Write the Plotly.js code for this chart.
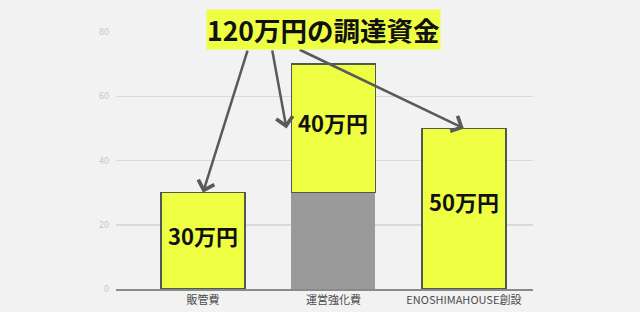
<!DOCTYPE html>
<html><head><meta charset="utf-8">
<script src="https://cdn.plot.ly/plotly-3.0.1.min.js"></script>
<style>html,body{margin:0;padding:0;background:#f2f2f2;}#chart{width:640px;height:312px;}</style>
</head><body><div id="chart"></div>
<script>
const categories = ['販管費', '運営強化費', 'ENOSHIMAHOUSE創設'];
const baseValues = [0, 30, 0];
const fundValues = [30, 40, 50];
const fundLabels = ['30万円', '40万円', '50万円'];
const titleText = '120万円の調達資金';
const yTicks = [0, 20, 40, 60, 80];

const FONT = '"Noto Sans CJK JP", "Noto Sans", sans-serif';
const YELLOW = '#eefe43';
const ARROW = '#5a5a5a';

const traces = [
  {type: 'bar', x: categories, y: baseValues, marker: {color: '#9a9a9a', line: {width: 0}}, width: 0.644, hoverinfo: 'skip'},
  {type: 'bar', x: categories, y: fundValues, marker: {color: YELLOW, line: {color: '#4d5a4d', width: 1.5}}, width: 0.644, hoverinfo: 'skip'}
];

const stackTop = fundValues.map((v, i) => v + baseValues[i]);
const labelAnns = categories.map((c, i) => ({
  xref: 'x', yref: 'y', x: c, y: baseValues[i] + fundValues[i] * 0.53, yshift: 3, showarrow: false,
  text: '<b>' + fundLabels[i] + '</b>', font: {family: FONT, size: 22, color: '#111'}
}));

const arrowCommon = {xref: 'x', yref: 'y', axref: 'x', ayref: 'y', showarrow: true, arrowhead: 4, arrowsize: 1.3,
                     arrowwidth: 2.5, arrowcolor: ARROW, text: ''};
const annotations = [
  Object.assign({}, arrowCommon, {x: 0, y: stackTop[0], ax: 0.345, ay: 74.7}),
  Object.assign({}, arrowCommon, {x: 1 - 0.36, y: baseValues[1] + fundValues[1] / 2, ax: 0.529, ay: 74.7}),
  Object.assign({}, arrowCommon, {x: 2, y: stackTop[2], ax: 0.73, ay: 74.7}),
  {xref: 'paper', yref: 'paper', x: 0.5, y: 1.0, xanchor: 'center', yanchor: 'middle', xshift: -1, yshift: 3,
   showarrow: false, text: '<b>' + titleText + '</b>', bgcolor: YELLOW, borderpad: 0,
   font: {family: FONT, size: 26.5, color: '#111'}}
].concat(labelAnns);

const layout = {
  width: 640, height: 312,
  margin: {l: 116, r: 107, t: 32, b: 23},
  paper_bgcolor: '#f2f2f2', plot_bgcolor: '#f2f2f2',
  barmode: 'stack', showlegend: false,
  font: {family: FONT},
  xaxis: {range: [-0.667, 2.53], showgrid: false, showline: true, linecolor: '#8a8a8a', linewidth: 1.5,
          ticks: '', tickfont: {family: FONT, size: 11, color: '#4a4a4a'}, zeroline: false, fixedrange: true},
  yaxis: {range: [0, 80], tickvals: yTicks, showgrid: true, gridcolor: '#dadada', gridwidth: 1.5,
          zeroline: false, showline: false, ticks: '', ticklen: 0, tickfont: {family: FONT, size: 9, color: '#c8c8c8'},
          ticklabelstandoff: 6, fixedrange: true},
  annotations: annotations
};

Plotly.newPlot('chart', traces, layout, {displayModeBar: false, staticPlot: true});
</script></body></html>
